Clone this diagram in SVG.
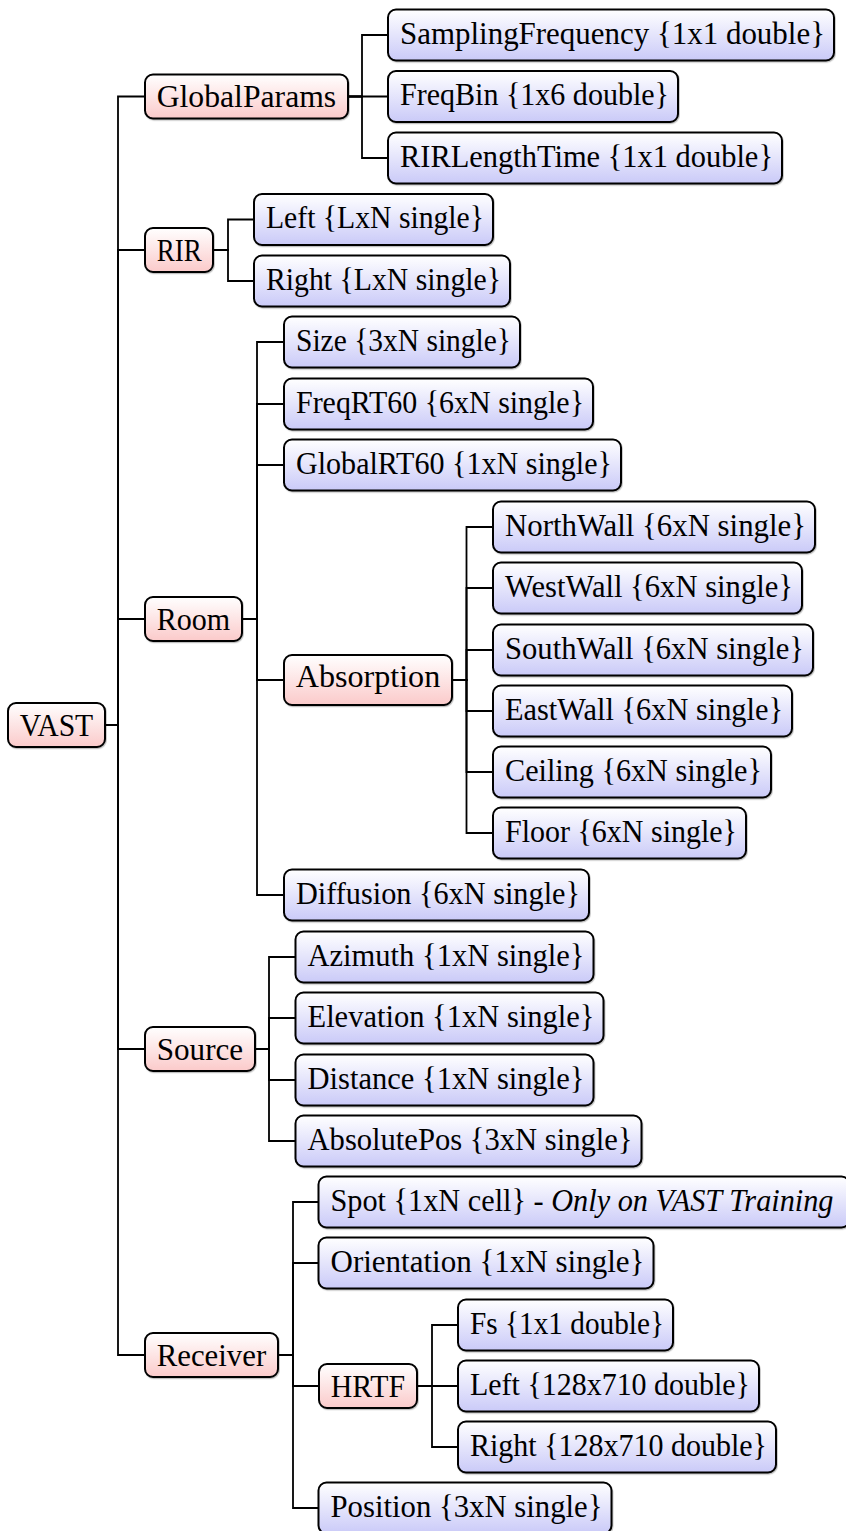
<svg xmlns="http://www.w3.org/2000/svg" width="846" height="1531" viewBox="0 0 846 1531">
  <defs>
    <linearGradient id="gradInner" x1="0" y1="0" x2="0" y2="1">
      <stop offset="0" stop-color="#ffffff"/>
      <stop offset="1" stop-color="#fbcaca"/>
    </linearGradient>
    <linearGradient id="gradLeaf" x1="0" y1="0" x2="0" y2="1">
      <stop offset="0" stop-color="#ffffff"/>
      <stop offset="1" stop-color="#cacaf8"/>
    </linearGradient>
    <filter id="shadow" x="-5%" y="-10%" width="115%" height="130%">
      <feDropShadow dx="0.8" dy="1.2" stdDeviation="0.7" flood-color="#000000" flood-opacity="0.25"/>
    </filter>
  </defs>
  <style>
    .inner rect { fill: url(#gradInner); stroke: #000; stroke-width: 2; filter: url(#shadow); }
    .leaf rect { fill: url(#gradLeaf); stroke: #000; stroke-width: 2; filter: url(#shadow); }
    text { font-family: "Liberation Serif", "Times New Roman", serif; font-size: 32.5px; fill: #000; }
    .it { font-style: italic; }
    #connectors path { fill: none; stroke: #000; stroke-width: 1.8; }
  </style>
  <rect x="0" y="0" width="846" height="1531" fill="#ffffff"/>

  <!-- tree edges: parent.east -> trunk x -> child.west -->
  <g id="connectors">
    <!-- VAST -->
    <path d="M105,725 H118 V96.5 H145"/>
    <path d="M105,725 H118 V250 H145"/>
    <path d="M105,725 H118 V619 H145"/>
    <path d="M105,725 H118 V1049 H145"/>
    <path d="M105,725 H118 V1355 H145"/>
    <!-- GlobalParams -->
    <path d="M348,96.5 H362 V35 H388"/>
    <path d="M348,96.5 H388"/>
    <path d="M348,96.5 H362 V158 H388"/>
    <!-- RIR -->
    <path d="M213,250 H228 V219.5 H254"/>
    <path d="M213,250 H228 V281 H254"/>
    <!-- Room -->
    <path d="M242,619 H257 V342 H284"/>
    <path d="M242,619 H257 V404 H284"/>
    <path d="M242,619 H257 V465 H284"/>
    <path d="M242,619 H257 V680 H284"/>
    <path d="M242,619 H257 V895 H284"/>
    <!-- Absorption -->
    <path d="M452,680 H466.5 V527 H493"/>
    <path d="M452,680 H466.5 V588 H493"/>
    <path d="M452,680 H466.5 V650 H493"/>
    <path d="M452,680 H466.5 V711 H493"/>
    <path d="M452,680 H466.5 V772 H493"/>
    <path d="M452,680 H466.5 V833 H493"/>
    <!-- Source -->
    <path d="M255,1049 H269 V957 H295.5"/>
    <path d="M255,1049 H269 V1018 H295.5"/>
    <path d="M255,1049 H269 V1080 H295.5"/>
    <path d="M255,1049 H269 V1141 H295.5"/>
    <!-- Receiver -->
    <path d="M278,1355 H293 V1202 H318.5"/>
    <path d="M278,1355 H293 V1263 H318.5"/>
    <path d="M278,1355 H293 V1386 H319"/>
    <path d="M278,1355 H293 V1508 H318.5"/>
    <!-- HRTF -->
    <path d="M417,1386 H432 V1325 H458"/>
    <path d="M417,1386 H458"/>
    <path d="M417,1386 H432 V1447 H458"/>
  </g>

  <!-- structure nodes -->
  <g id="vast" class="inner">
    <rect x="8" y="703" width="97" height="44" rx="8"/>
    <text x="19.7" y="735.5" textLength="73.5" lengthAdjust="spacingAndGlyphs">VAST</text>
  </g>
  <g id="globalparams" class="inner">
    <rect x="145" y="74.5" width="203" height="44" rx="8"/>
    <text x="156.7" y="107" textLength="179.5" lengthAdjust="spacingAndGlyphs">GlobalParams</text>
  </g>
  <g id="rir" class="inner">
    <rect x="145" y="228" width="68" height="44" rx="8"/>
    <text x="156.7" y="260.5" textLength="45" lengthAdjust="spacingAndGlyphs">RIR</text>
  </g>
  <g id="room" class="inner">
    <rect x="145" y="597" width="97" height="44" rx="8"/>
    <text x="156.7" y="629.5" textLength="73.5" lengthAdjust="spacingAndGlyphs">Room</text>
  </g>
  <g id="absorption" class="inner">
    <rect x="284" y="655" width="168" height="50" rx="8"/>
    <text x="295.7" y="687" textLength="144.5" lengthAdjust="spacingAndGlyphs">Absorption</text>
  </g>
  <g id="source" class="inner">
    <rect x="145" y="1027" width="110" height="44" rx="8"/>
    <text x="156.7" y="1059.5" textLength="86.5" lengthAdjust="spacingAndGlyphs">Source</text>
  </g>
  <g id="receiver" class="inner">
    <rect x="145" y="1333" width="133" height="44" rx="8"/>
    <text x="156.7" y="1365.5" textLength="109.5" lengthAdjust="spacingAndGlyphs">Receiver</text>
  </g>
  <g id="hrtf" class="inner">
    <rect x="319" y="1364" width="98" height="44" rx="8"/>
    <text x="330.7" y="1396.5" textLength="74.5" lengthAdjust="spacingAndGlyphs">HRTF</text>
  </g>

  <!-- GlobalParams fields -->
  <g id="samplingfrequency" class="leaf">
    <rect x="388" y="9.5" width="446" height="51" rx="8"/>
    <text x="400" y="43.5" textLength="425" lengthAdjust="spacingAndGlyphs">SamplingFrequency {1x1 double}</text>
  </g>
  <g id="freqbin" class="leaf">
    <rect x="388" y="71" width="290" height="51" rx="8"/>
    <text x="400" y="105" textLength="269" lengthAdjust="spacingAndGlyphs">FreqBin {1x6 double}</text>
  </g>
  <g id="rirlengthtime" class="leaf">
    <rect x="388" y="132.5" width="394" height="51" rx="8"/>
    <text x="400" y="166.5" textLength="373" lengthAdjust="spacingAndGlyphs">RIRLengthTime {1x1 double}</text>
  </g>

  <!-- RIR fields -->
  <g id="rir-left" class="leaf">
    <rect x="254" y="194" width="239" height="51" rx="8"/>
    <text x="266" y="228" textLength="218" lengthAdjust="spacingAndGlyphs">Left {LxN single}</text>
  </g>
  <g id="rir-right" class="leaf">
    <rect x="254" y="255.5" width="256" height="51" rx="8"/>
    <text x="266" y="289.5" textLength="235" lengthAdjust="spacingAndGlyphs">Right {LxN single}</text>
  </g>

  <!-- Room fields -->
  <g id="size" class="leaf">
    <rect x="284" y="316.5" width="236" height="51" rx="8"/>
    <text x="296" y="350.5" textLength="215" lengthAdjust="spacingAndGlyphs">Size {3xN single}</text>
  </g>
  <g id="freqrt60" class="leaf">
    <rect x="284" y="378.5" width="309" height="51" rx="8"/>
    <text x="296" y="412.5" textLength="288" lengthAdjust="spacingAndGlyphs">FreqRT60 {6xN single}</text>
  </g>
  <g id="globalrt60" class="leaf">
    <rect x="284" y="439.5" width="337" height="51" rx="8"/>
    <text x="296" y="473.5" textLength="316" lengthAdjust="spacingAndGlyphs">GlobalRT60 {1xN single}</text>
  </g>
  <g id="diffusion" class="leaf">
    <rect x="284" y="869.5" width="305" height="51" rx="8"/>
    <text x="296" y="903.5" textLength="284" lengthAdjust="spacingAndGlyphs">Diffusion {6xN single}</text>
  </g>

  <!-- Absorption fields -->
  <g id="northwall" class="leaf">
    <rect x="493" y="501.5" width="322" height="51" rx="8"/>
    <text x="505" y="535.5" textLength="301" lengthAdjust="spacingAndGlyphs">NorthWall {6xN single}</text>
  </g>
  <g id="westwall" class="leaf">
    <rect x="493" y="562.5" width="309" height="51" rx="8"/>
    <text x="505" y="596.5" textLength="288" lengthAdjust="spacingAndGlyphs">WestWall {6xN single}</text>
  </g>
  <g id="southwall" class="leaf">
    <rect x="493" y="624.5" width="320" height="51" rx="8"/>
    <text x="505" y="658.5" textLength="299" lengthAdjust="spacingAndGlyphs">SouthWall {6xN single}</text>
  </g>
  <g id="eastwall" class="leaf">
    <rect x="493" y="685.5" width="299" height="51" rx="8"/>
    <text x="505" y="719.5" textLength="278" lengthAdjust="spacingAndGlyphs">EastWall {6xN single}</text>
  </g>
  <g id="ceiling" class="leaf">
    <rect x="493" y="746.5" width="278" height="51" rx="8"/>
    <text x="505" y="780.5" textLength="257" lengthAdjust="spacingAndGlyphs">Ceiling {6xN single}</text>
  </g>
  <g id="floor" class="leaf">
    <rect x="493" y="807.5" width="253" height="51" rx="8"/>
    <text x="505" y="841.5" textLength="232" lengthAdjust="spacingAndGlyphs">Floor {6xN single}</text>
  </g>

  <!-- Source fields -->
  <g id="azimuth" class="leaf">
    <rect x="295.5" y="931.5" width="298" height="51" rx="8"/>
    <text x="307.5" y="965.5" textLength="277" lengthAdjust="spacingAndGlyphs">Azimuth {1xN single}</text>
  </g>
  <g id="elevation" class="leaf">
    <rect x="295.5" y="992.5" width="308" height="51" rx="8"/>
    <text x="307.5" y="1026.5" textLength="287" lengthAdjust="spacingAndGlyphs">Elevation {1xN single}</text>
  </g>
  <g id="distance" class="leaf">
    <rect x="295.5" y="1054.5" width="298" height="51" rx="8"/>
    <text x="307.5" y="1088.5" textLength="277" lengthAdjust="spacingAndGlyphs">Distance {1xN single}</text>
  </g>
  <g id="absolutepos" class="leaf">
    <rect x="295.5" y="1115.5" width="346" height="51" rx="8"/>
    <text x="307.5" y="1149.5" textLength="325" lengthAdjust="spacingAndGlyphs">AbsolutePos {3xN single}</text>
  </g>

  <!-- Receiver fields -->
  <g id="spot" class="leaf">
    <rect x="318.5" y="1176.5" width="531" height="51" rx="8"/>
    <text x="330.5" y="1210.5" textLength="503" lengthAdjust="spacingAndGlyphs">Spot {1xN cell} - <tspan class="it">Only on VAST Training</tspan></text>
  </g>
  <g id="orientation" class="leaf">
    <rect x="318.5" y="1237.5" width="335" height="51" rx="8"/>
    <text x="330.5" y="1271.5" textLength="314" lengthAdjust="spacingAndGlyphs">Orientation {1xN single}</text>
  </g>
  <g id="position" class="leaf">
    <rect x="318.5" y="1482.5" width="293" height="51" rx="8"/>
    <text x="330.5" y="1516.5" textLength="272" lengthAdjust="spacingAndGlyphs">Position {3xN single}</text>
  </g>

  <!-- HRTF fields -->
  <g id="fs" class="leaf">
    <rect x="458" y="1299.5" width="215" height="51" rx="8"/>
    <text x="470" y="1333.5" textLength="194" lengthAdjust="spacingAndGlyphs">Fs {1x1 double}</text>
  </g>
  <g id="hrtf-left" class="leaf">
    <rect x="458" y="1360.5" width="301" height="51" rx="8"/>
    <text x="470" y="1394.5" textLength="280" lengthAdjust="spacingAndGlyphs">Left {128x710 double}</text>
  </g>
  <g id="hrtf-right" class="leaf">
    <rect x="458" y="1421.5" width="318" height="51" rx="8"/>
    <text x="470" y="1455.5" textLength="297" lengthAdjust="spacingAndGlyphs">Right {128x710 double}</text>
  </g>
</svg>
